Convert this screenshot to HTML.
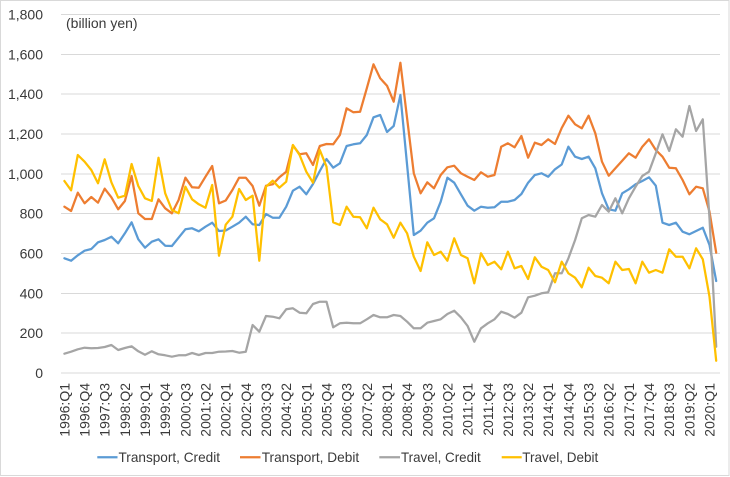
<!DOCTYPE html>
<html>
<head>
<meta charset="utf-8">
<style>
  html,body{margin:0;padding:0;background:#fff;}
  svg{display:block;}
  text{font-family:"Liberation Sans", sans-serif; fill:#3a3a3a; font-size:14px;}
</style>
</head>
<body>
<svg width="730" height="477" viewBox="0 0 730 477" xmlns="http://www.w3.org/2000/svg">
  <rect x="0" y="0" width="730" height="477" fill="#ffffff"/>
  <rect x="0.5" y="0.5" width="728.5" height="475" fill="none" stroke="#D9D9D9" stroke-width="1"/>

  <!-- gridlines -->
  <g stroke="#D9D9D9" stroke-width="1" shape-rendering="crispEdges">
    <line x1="61" y1="373" x2="720" y2="373"/>
    <line x1="61" y1="333.2" x2="720" y2="333.2"/>
    <line x1="61" y1="293.3" x2="720" y2="293.3"/>
    <line x1="61" y1="253.5" x2="720" y2="253.5"/>
    <line x1="61" y1="213.7" x2="720" y2="213.7"/>
    <line x1="61" y1="173.9" x2="720" y2="173.9"/>
    <line x1="61" y1="134" x2="720" y2="134"/>
    <line x1="61" y1="94.2" x2="720" y2="94.2"/>
    <line x1="61" y1="54.4" x2="720" y2="54.4"/>
    <line x1="61" y1="14.5" x2="720" y2="14.5"/>
  </g>

  <!-- y labels -->
  <g text-anchor="end">
    <text x="43" y="378">0</text>
    <text x="43" y="338.2">200</text>
    <text x="43" y="298.3">400</text>
    <text x="43" y="258.5">600</text>
    <text x="43" y="218.7">800</text>
    <text x="43" y="178.9">1,000</text>
    <text x="43" y="139">1,200</text>
    <text x="43" y="99.2">1,400</text>
    <text x="43" y="59.4">1,600</text>
    <text x="43" y="19.5">1,800</text>
  </g>

  <text x="66" y="28">(billion yen)</text>

  <!-- series -->
  <g fill="none" stroke-width="2.25" stroke-linejoin="round" stroke-linecap="round">
    <polyline stroke="#5B9BD5" points="64.4,258.3 71.1,260.7 77.8,255.3 84.6,250.7 91.3,249 98,242.3 104.7,240 111.4,236.7 118.2,243.3 124.9,233.3 131.6,222.3 138.3,239.3 145,247.7 151.8,241.7 158.5,239.3 165.2,245.7 171.9,246 178.6,237.7 185.4,229.3 192.1,228.3 198.8,231.3 205.5,226.7 212.2,222.7 219,231 225.7,230.5 232.4,226.7 239.1,222.7 245.8,216.7 252.6,224.3 259.3,225 266,214 272.7,217.7 279.4,217.7 286.2,206.7 292.9,190.7 299.6,186.7 306.3,194.3 313,184 319.8,171 326.5,159 333.2,167.7 339.9,163.3 346.6,146 353.4,144.3 360.1,143.3 366.8,135 373.5,117.3 380.2,115 387,132 393.7,126 400.4,95 407.1,165 413.8,235 420.6,230.7 427.3,222.7 434,218.3 440.7,201.7 447.4,177.7 454.2,182.7 460.9,194.3 467.6,205.7 474.3,210.7 481,206.7 487.8,207.7 494.5,207.3 501.2,201.7 507.9,201.7 514.6,200 521.4,194 528.1,182.7 534.8,175 541.5,173.3 548.2,176.7 555,169.3 561.7,164.5 568.4,146.7 575.1,156.7 581.8,159 588.6,156.7 595.3,168.3 602,193.3 608.7,209.3 615.4,210.7 622.2,193.3 628.9,189.3 635.6,184.3 642.3,181 649,177.3 655.8,185.7 662.5,222.7 669.2,225 675.9,222.7 682.6,231.7 689.4,234.3 696.1,231 702.8,227.7 709.5,245 716.2,281"/>
    <polyline stroke="#ED7D31" points="64.4,206.7 71.1,211 77.8,192.7 84.6,203.3 91.3,197 98,202.7 104.7,188.7 111.4,197.3 118.2,209.3 124.9,201 131.6,176 138.3,213.3 145,219 151.8,219 158.5,199.3 165.2,208.3 171.9,213.3 178.6,200 185.4,177.7 192.1,187.3 198.8,187.7 205.5,176.7 212.2,166 219,203.3 225.7,200.5 232.4,190 239.1,177.7 245.8,177.7 252.6,186 259.3,205.7 266,185.7 272.7,184.3 279.4,177.3 286.2,171.7 292.9,145.3 299.6,154.3 306.3,153.3 313,165 319.8,146 326.5,144 333.2,144.3 339.9,135 346.6,108.3 353.4,112.3 360.1,111.7 366.8,88.3 373.5,64.3 380.2,78.3 387,85.7 393.7,101.7 400.4,62.7 407.1,118.3 413.8,173.3 420.6,193.3 427.3,182.3 434,188.3 440.7,175 447.4,167.3 454.2,165.7 460.9,173.3 467.6,176.7 474.3,180 481,172.3 487.8,176.7 494.5,175 501.2,146.7 507.9,143.3 514.6,147.3 521.4,136 528.1,157.7 534.8,142.7 541.5,145 548.2,139.3 555,144 561.7,128 568.4,115.7 575.1,124.3 581.8,128.3 588.6,115.7 595.3,133.3 602,161.7 608.7,175.7 615.4,168.3 622.2,160.7 628.9,153.3 635.6,157.7 642.3,146.7 649,139.3 655.8,150 662.5,156.7 669.2,167.7 675.9,168.3 682.6,180 689.4,194.3 696.1,186.7 702.8,188.3 709.5,211.7 716.2,252.7"/>
    <polyline stroke="#A5A5A5" points="64.4,353.7 71.1,351.7 77.8,349.3 84.6,347.7 91.3,348.3 98,348 104.7,347 111.4,345 118.2,350 124.9,348 131.6,346.3 138.3,351.3 145,354.7 151.8,351.3 158.5,354.3 165.2,355.3 171.9,356.7 178.6,355.3 185.4,355.3 192.1,353 198.8,355 205.5,353 212.2,353 219,351.7 225.7,351.5 232.4,351 239.1,352.7 245.8,351.7 252.6,325 259.3,331.7 266,316 272.7,316.7 279.4,318.3 286.2,309.3 292.9,308.3 299.6,312.7 306.3,313.3 313,304 319.8,301.7 326.5,301.7 333.2,327.3 339.9,323.3 346.6,322.7 353.4,323.3 360.1,323.3 366.8,319.3 373.5,315 380.2,317.3 387,317.3 393.7,315 400.4,316 407.1,321.7 413.8,328.3 420.6,328.3 427.3,322.7 434,321 440.7,319.3 447.4,314 454.2,310.7 460.9,317.3 467.6,326 474.3,341.7 481,328.3 487.8,323.3 494.5,319.3 501.2,311.7 507.9,314 514.6,317.7 521.4,312.7 528.1,297.3 534.8,295.7 541.5,293.3 548.2,292.3 555,273.3 561.7,273.3 568.4,258.3 575.1,240 581.8,218.3 588.6,215 595.3,216.7 602,205 608.7,211.7 615.4,198.3 622.2,213.3 628.9,198.3 635.6,186.7 642.3,176 649,171.7 655.8,153.3 662.5,134.3 669.2,151 675.9,129.3 682.6,136.7 689.4,106 696.1,131 702.8,119.3 709.5,218.3 716.2,346.7"/>
    <polyline stroke="#FFC000" points="64.4,181 71.1,190.3 77.8,155 84.6,161.7 91.3,170 98,183.3 104.7,159.3 111.4,182.3 118.2,197.7 124.9,195.7 131.6,164 138.3,186 145,198.3 151.8,201 158.5,157.7 165.2,193.3 171.9,210 178.6,213.3 185.4,186.7 192.1,199.3 198.8,204.3 205.5,207.7 212.2,185 219,255.7 225.7,224.7 232.4,216.7 239.1,189 245.8,200 252.6,195.7 259.3,260.7 266,186.7 272.7,180.7 279.4,187.7 286.2,181.7 292.9,145 299.6,155 306.3,171.7 313,182.7 319.8,150 326.5,166.7 333.2,222.3 339.9,225 346.6,206.7 353.4,216.7 360.1,217.3 366.8,228.3 373.5,207.7 380.2,219.3 387,224.3 393.7,237.7 400.4,222.7 407.1,233.3 413.8,256.7 420.6,271 427.3,242.3 434,255 440.7,251.7 447.4,260.7 454.2,238.3 460.9,255 467.6,258.3 474.3,283.3 481,253.3 487.8,265 494.5,261.7 501.2,269.3 507.9,251.7 514.6,268.3 521.4,266 528.1,279 534.8,257.3 541.5,266.7 548.2,270 555,282.3 561.7,261.7 568.4,273.3 575.1,277.7 581.8,287.3 588.6,267.7 595.3,276 602,277.7 608.7,283.3 615.4,261.7 622.2,270 628.9,269 635.6,283.3 642.3,261.7 649,272.7 655.8,270 662.5,272.7 669.2,249.3 675.9,256.7 682.6,256.7 689.4,268.3 696.1,248.3 702.8,259.3 709.5,296.7 716.2,360.7"/>
  </g>

  <!-- x labels -->
  <g text-anchor="end">
    <text transform="translate(69.4,383) rotate(-90)">1996:Q1</text>
    <text transform="translate(89.6,383) rotate(-90)">1996:Q4</text>
    <text transform="translate(109.7,383) rotate(-90)">1997:Q3</text>
    <text transform="translate(129.9,383) rotate(-90)">1998:Q2</text>
    <text transform="translate(150,383) rotate(-90)">1999:Q1</text>
    <text transform="translate(170.2,383) rotate(-90)">1999:Q4</text>
    <text transform="translate(190.4,383) rotate(-90)">2000:Q3</text>
    <text transform="translate(210.5,383) rotate(-90)">2001:Q2</text>
    <text transform="translate(230.7,383) rotate(-90)">2002:Q1</text>
    <text transform="translate(250.8,383) rotate(-90)">2002:Q4</text>
    <text transform="translate(271,383) rotate(-90)">2003:Q3</text>
    <text transform="translate(291.2,383) rotate(-90)">2004:Q2</text>
    <text transform="translate(311.3,383) rotate(-90)">2005:Q1</text>
    <text transform="translate(331.5,383) rotate(-90)">2005:Q4</text>
    <text transform="translate(351.6,383) rotate(-90)">2006:Q3</text>
    <text transform="translate(371.8,383) rotate(-90)">2007:Q2</text>
    <text transform="translate(392,383) rotate(-90)">2008:Q1</text>
    <text transform="translate(412.1,383) rotate(-90)">2008:Q4</text>
    <text transform="translate(432.3,383) rotate(-90)">2009:Q3</text>
    <text transform="translate(452.4,383) rotate(-90)">2010:Q2</text>
    <text transform="translate(472.6,383) rotate(-90)">2011:Q1</text>
    <text transform="translate(492.8,383) rotate(-90)">2011:Q4</text>
    <text transform="translate(512.9,383) rotate(-90)">2012:Q3</text>
    <text transform="translate(533.1,383) rotate(-90)">2013:Q2</text>
    <text transform="translate(553.2,383) rotate(-90)">2014:Q1</text>
    <text transform="translate(573.4,383) rotate(-90)">2014:Q4</text>
    <text transform="translate(593.6,383) rotate(-90)">2015:Q3</text>
    <text transform="translate(613.7,383) rotate(-90)">2016:Q2</text>
    <text transform="translate(633.9,383) rotate(-90)">2017:Q1</text>
    <text transform="translate(654,383) rotate(-90)">2017:Q4</text>
    <text transform="translate(674.2,383) rotate(-90)">2018:Q3</text>
    <text transform="translate(694.4,383) rotate(-90)">2019:Q2</text>
    <text transform="translate(714.5,383) rotate(-90)">2020:Q1</text>
  </g>

  <!-- legend -->
  <g stroke-width="2.25">
    <line x1="97.3" y1="457.3" x2="117.5" y2="457.3" stroke="#5B9BD5"/>
    <line x1="240" y1="457.3" x2="260.5" y2="457.3" stroke="#ED7D31"/>
    <line x1="379.3" y1="457.3" x2="400" y2="457.3" stroke="#A5A5A5"/>
    <line x1="501.7" y1="457.3" x2="521.7" y2="457.3" stroke="#FFC000"/>
  </g>
  <text x="118.5" y="462" textLength="101.5" lengthAdjust="spacingAndGlyphs">Transport, Credit</text>
  <text x="261.7" y="462" textLength="97.5" lengthAdjust="spacingAndGlyphs">Transport, Debit</text>
  <text x="401" y="462" textLength="79.7" lengthAdjust="spacingAndGlyphs">Travel, Credit</text>
  <text x="522.3" y="462" textLength="76" lengthAdjust="spacingAndGlyphs">Travel, Debit</text>
</svg>
</body>
</html>
